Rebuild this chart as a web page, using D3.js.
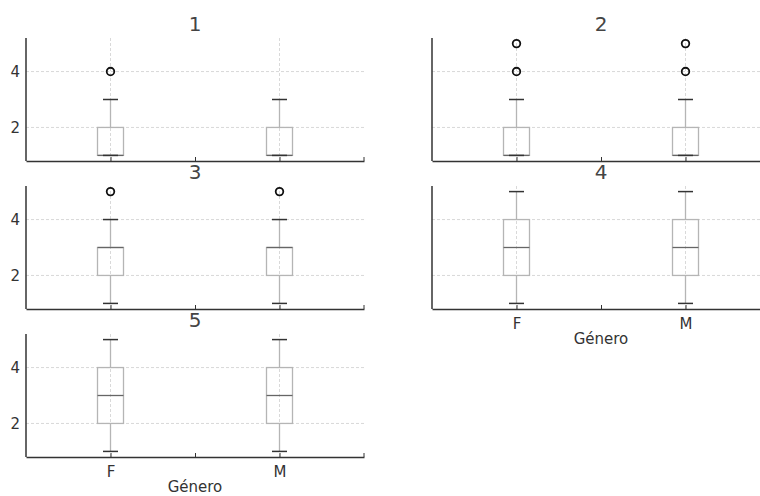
<!DOCTYPE html>
<html><head><meta charset="utf-8">
<script src="https://cdn.jsdelivr.net/npm/d3@7"></script>
<style>body{margin:0;background:#fff}svg{display:block;font-family:"DejaVu Sans",sans-serif}</style>
</head><body><svg id="c" width="760" height="496"></svg>
<script>
const panelTitles = ["1","2","3","4","5"];
const categories = ["F","M"];
// per panel, per category
const whiskerLow = [[1,1],[1,1],[1,1],[1,1],[1,1]];
const quartile1  = [[1,1],[1,1],[2,2],[2,2],[2,2]];
const medians    = [[1,1],[1,1],[3,3],[3,3],[3,3]];
const quartile3  = [[2,2],[2,2],[3,3],[4,4],[4,4]];
const whiskerHigh= [[3,3],[3,3],[4,4],[5,5],[5,5]];
const fliers     = [[[4],[]],[[4,5],[4,5]],[[5],[5]],[[],[]],[[],[]]];
const yTicks = [2,4];
const xLabel = "Género";

const svg = d3.select("#c");
const colX = [26, 432], W = 338;
const rowY = [38, 186, 334], H = 123;
const layout = [[0,0],[0,1],[1,0],[1,1],[2,0]];
const FONT = "DejaVu Sans, sans-serif";

layout.forEach(([r,c], i) => {
  const x0 = colX[c], y0 = rowY[r];
  const g = svg.append("g").attr("transform", `translate(${x0},${y0})`);
  const x = d3.scaleLinear().domain([0.5, 2.5]).range([0, W]);
  const y = d3.scaleLinear().domain([0.8, 5.2]).range([H, 0]);
  const pos = d => x(categories.indexOf(d) + 1);

  g.selectAll(".gy").data(yTicks).join("line")
    .attr("x1", 0).attr("x2", W).attr("y1", d => y(d)).attr("y2", d => y(d))
    .attr("stroke", "#cfcfcf").attr("stroke-width", 0.8).attr("stroke-dasharray", "3,2");
  g.selectAll(".gx").data(categories).join("line")
    .attr("x1", pos).attr("x2", pos).attr("y1", 0).attr("y2", H)
    .attr("stroke", "#cfcfcf").attr("stroke-width", 0.8).attr("stroke-dasharray", "3,2");

  const bw = 26, cw = 15;
  categories.forEach((cat, j) => {
    const cx = pos(cat);
    const lo = whiskerLow[i][j], q1 = quartile1[i][j], md = medians[i][j], q3 = quartile3[i][j], hi = whiskerHigh[i][j];
    g.append("line").attr("x1", cx).attr("x2", cx).attr("y1", y(hi)).attr("y2", y(q3)).attr("stroke", "#b5b5b5").attr("stroke-width", 1.3);
    g.append("line").attr("x1", cx).attr("x2", cx).attr("y1", y(q1)).attr("y2", y(lo)).attr("stroke", "#b5b5b5").attr("stroke-width", 1.3);
    g.append("rect").attr("x", cx - bw/2).attr("width", bw).attr("y", y(q3)).attr("height", y(q1) - y(q3))
      .attr("fill", "none").attr("stroke", "#b5b5b5").attr("stroke-width", 1.3);
    g.append("line").attr("x1", cx - bw/2).attr("x2", cx + bw/2).attr("y1", y(md)).attr("y2", y(md)).attr("stroke", "#666").attr("stroke-width", 1.3);
    [lo, hi].forEach(v => g.append("line").attr("x1", cx - cw/2).attr("x2", cx + cw/2).attr("y1", y(v)).attr("y2", y(v)).attr("stroke", "#333").attr("stroke-width", 1.5));
    fliers[i][j].forEach(v => g.append("circle").attr("cx", cx).attr("cy", y(v)).attr("r", 3.8)
      .attr("fill", "none").attr("stroke", "#111").attr("stroke-width", 1.8));
  });

  const yAxis = d3.axisLeft(y).tickValues(yTicks).tickSize(0).tickPadding(6).tickFormat(c === 0 ? d3.format("d") : () => "");
  const ga = g.append("g").call(yAxis).attr("font-family", FONT);
  ga.select(".domain").attr("stroke", "#333").attr("stroke-width", 1.5).attr("d", `M0,0V${H}`);
  ga.selectAll("text").attr("fill", "#333").attr("font-size", 15);
  const showX = (i === 4 || i === 3);
  const xAxis = d3.axisBottom(x).tickValues([1, 1.5, 2]).tickSizeInner(-4).tickSizeOuter(0).tickPadding(9)
    .tickFormat(d => showX && d !== 1.5 ? categories[d-1] : "");
  const gb = g.append("g").attr("transform", `translate(0,${H})`).call(xAxis).attr("font-family", FONT);
  gb.select(".domain").attr("stroke", "#333").attr("stroke-width", 1.5);
  gb.selectAll("line").attr("stroke", "#333").attr("stroke-width", 1);
  gb.selectAll("text").attr("fill", "#333").attr("font-size", 15);
  g.append("line").attr("x1", W).attr("x2", W).attr("y1", H).attr("y2", H - 4).attr("stroke", "#333");

  g.append("text").attr("x", W/2).attr("y", -7).attr("text-anchor", "middle").attr("font-family", FONT)
    .attr("font-size", 20).attr("fill", "#444").text(panelTitles[i]);
  if (showX) g.append("text").attr("x", W/2).attr("y", H + 35).attr("text-anchor", "middle").attr("font-family", FONT)
    .attr("font-size", 15).attr("fill", "#333").text(xLabel);
});
</script></body></html>
